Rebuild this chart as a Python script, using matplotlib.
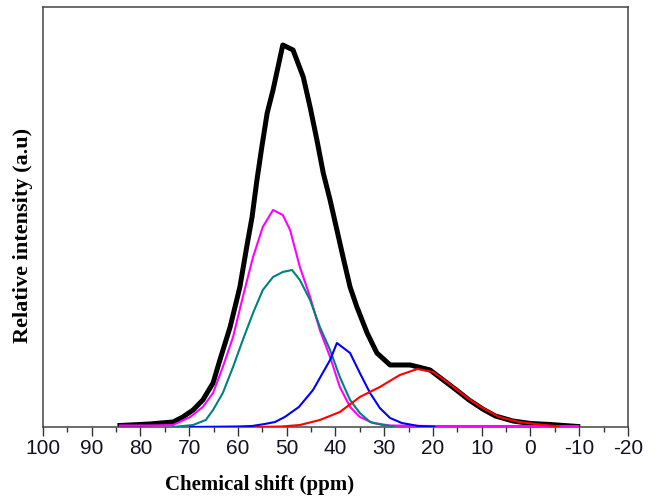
import matplotlib
matplotlib.use("Agg")
import matplotlib.pyplot as plt
from matplotlib.ticker import MultipleLocator

# Chemical shift (ppm) and relative intensity (a.u.)
total_x = [84.2, 78.1, 73.3, 71.3, 69.2, 67.2, 65.1, 63.7, 61.6, 59.6, 58.2, 57.1, 56.1, 55.1, 54.0, 52.8, 51.6, 50.8, 48.7, 46.6, 45.2, 43.8, 42.5, 41.1, 39.7, 38.3, 37.0, 35.6, 33.5, 31.5, 28.8, 24.7, 23.0, 20.6, 17.9, 15.2, 12.6, 9.8, 7.2, 3.6, 0.0, -4.0, -9.7]
total_y = [1.5, 3, 5, 10, 17, 27, 44, 67, 100, 140, 180, 210, 247, 280, 314, 337, 364, 382, 377, 350, 320, 287, 254, 227, 197, 167, 140, 120, 94, 74, 62, 62, 60, 57, 47, 37, 27, 18, 11, 6, 3.5, 2.5, 0.5]

magenta_x = [84.2, 78.1, 73.3, 69.8, 67.2, 65.1, 63.1, 61.0, 59.0, 56.9, 54.9, 52.8, 50.8, 49.3, 47.3, 45.2, 43.2, 41.1, 39.1, 37.0, 35.0, 32.3, 28.8, 20.6, 10.0, 0.0, -9.7]
magenta_y = [1.5, 1.5, 2, 10, 20, 34, 60, 90, 130, 170, 200, 217, 212, 197, 160, 130, 97, 70, 40, 20, 10, 4, 1.5, 1, 1, 1, 1]

teal_x = [73.3, 69.2, 66.6, 65.1, 63.1, 61.0, 59.0, 56.9, 54.9, 52.8, 50.8, 48.9, 47.3, 45.2, 43.2, 41.1, 39.1, 37.0, 35.0, 32.9, 30.3, 28.0]
teal_y = [0, 2, 7, 17, 34, 60, 87, 114, 137, 150, 155, 157, 147, 127, 100, 77, 50, 27, 14, 5, 2, 0.5]

blue_x = [69.8, 60.0, 57.1, 54.5, 52.4, 50.4, 47.5, 44.6, 41.1, 39.7, 37.0, 35.0, 32.9, 30.9, 28.8, 26.4, 23.0, 19.7]
blue_y = [0, 0.5, 1, 3, 5, 10, 20, 37, 67, 84, 74, 54, 34, 19, 9, 4, 1, 0.3]

red_x = [56.0, 51.0, 47.3, 43.2, 39.1, 35.0, 30.9, 26.8, 23.2, 20.0, 17.1, 14.5, 11.8, 9.1, 6.4, 2.3, -1.8, -5.9]
red_y = [0, 0.5, 2, 7, 15, 30, 40, 52, 58, 55, 45, 35, 25, 17, 10, 5, 2.5, 0.5]

x_ticks = [100, 90, 80, 70, 60, 50, 40, 30, 20, 10, 0, -10, -20]
x_tick_labels = ["100", "90", "80", "70", "60", "50", "40", "30", "20", "10", "0", "-10", "-20"]

fig = plt.figure(figsize=(6.6, 4.99), dpi=100)
ax = fig.add_axes([0.065, 0.1443, 0.8865, 0.8417])

ax.plot(total_x, total_y, color="black", lw=3.6, solid_joinstyle="round", zorder=2)
ax.plot(magenta_x, magenta_y, color="#ff00ff", lw=1.5, zorder=3)
ax.plot(teal_x, teal_y, color="#008080", lw=1.5, zorder=3)
ax.plot(blue_x, blue_y, color="#0000ff", lw=1.5, zorder=3)
ax.plot(red_x, red_y, color="#ff0000", lw=1.5, zorder=3)

ax.set_xlim(100, -20)
ax.set_ylim(0, 420)
ax.set_xticks(x_ticks)
ax.set_xticklabels(x_tick_labels, fontfamily="Liberation Sans", fontsize=15)
ax.xaxis.set_minor_locator(MultipleLocator(5))
ax.tick_params(axis="x", which="major", direction="out", length=6.5, width=1.0, pad=2,
               colors="#333333", labelcolor="#111122")
ax.tick_params(axis="x", which="minor", direction="out", length=3.5, width=1.0, colors="#333333")
ax.set_yticks([])
for sp in ax.spines.values():
    sp.set_color("#444444")
    sp.set_linewidth(1.1)

ax.set_xlabel("Chemical shift (ppm)", fontfamily="Liberation Serif", fontweight="bold", fontsize=15)
ax.xaxis.set_label_coords(0.371, -0.138)
ax.xaxis.label.set_va("center")
ax.set_ylabel("Relative intensity (a.u)", fontfamily="Liberation Serif", fontweight="bold", fontsize=16)
ax.yaxis.set_label_coords(-0.034, 0.455)
ax.yaxis.label.set_va("center")

fig.savefig("out.png", dpi=100)
